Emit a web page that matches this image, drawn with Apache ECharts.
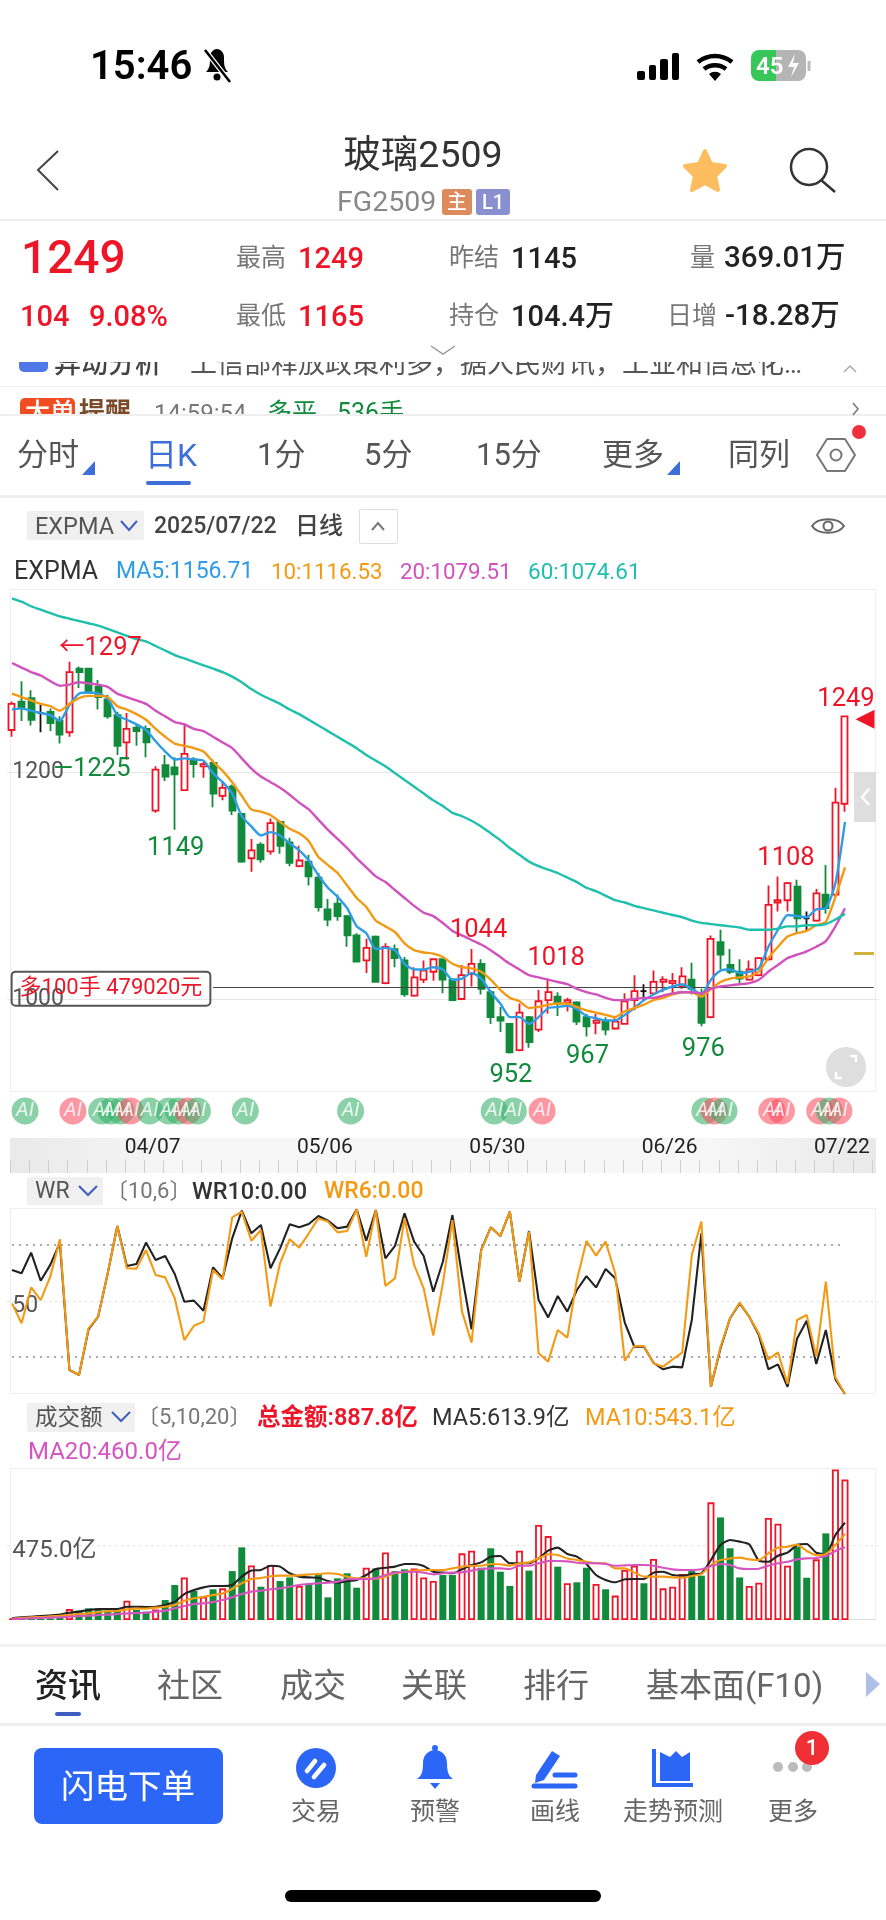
<!DOCTYPE html>
<html>
<head>
<meta charset="utf-8">
<title>玻璃2509</title>
<script src="https://cdn.jsdelivr.net/npm/echarts@6/dist/echarts.min.js"></script>
<style>
html, body { margin: 0; padding: 0; background: #fff; }
body { width: 886px; height: 1920px; position: relative; overflow: hidden; font-family: Roboto, "Noto Sans CJK SC", sans-serif; }
#chart { position: absolute; left: 0; top: 0; width: 886px; height: 1920px; z-index: 2; }
#under, #ui { position: absolute; left: 0; top: 0; width: 886px; height: 1920px; }
#under { z-index: 1; }
#ui { z-index: 3; pointer-events: none; }
.t { position: absolute; white-space: nowrap; transform: translateY(-50%); line-height: 1.2; }
.c { transform: translate(-50%, -50%); }
.b { position: absolute; box-sizing: border-box; }
.clip { position: absolute; overflow: hidden; left: 0; width: 886px; }
svg { position: absolute; left: 0; top: 0; overflow: visible; }
</style>
</head>
<body>
<div id="under">
    <div class="b" style="left:10px;top:589px;width:866px;height:503px;border:1px solid #eee"></div>
    <div class="b" style="left:10px;top:1208px;width:866px;height:186px;border:1px solid #eee"></div>
    <div class="b" style="left:10px;top:1468px;width:866px;height:152px;border:1px solid #eee;border-bottom-color:#ddd"></div>
    <div class="b" style="left:10px;top:1138px;width:866px;height:35px;background:linear-gradient(90deg,#e9e9e9,#f7f7f7 20%,#f7f7f7 80%,#e9e9e9)"></div>
    <div class="b" style="left:10px;top:1160px;width:866px;height:13px;background:repeating-linear-gradient(90deg,#cfcfcf 0 1px,transparent 1px 19.15px)"></div>
    <div class="b" style="left:0;top:219px;width:886px;height:2px;background:#eee"></div>
    <div class="b" style="left:0;top:386px;width:886px;height:1px;background:#eee"></div>
    <div class="b" style="left:0;top:414px;width:886px;height:2px;background:#eee"></div>
    <div class="b" style="left:0;top:495px;width:886px;height:3px;background:#eee"></div>
    <div class="b" style="left:0;top:1644px;width:886px;height:3px;background:#f0f0f0"></div>
    <div class="b" style="left:0;top:1723px;width:886px;height:3px;background:#eee"></div>
</div>
<div id="chart"></div>
<div id="ui"></div>
<script>
// K线数据，从图上读出来的
var dates = ['03/14','03/17','03/18','03/19','03/20','03/21','03/24','03/25','03/26','03/27','03/28','03/31','04/01','04/02','04/03','04/07','04/08','04/09','04/10','04/11','04/14','04/15','04/16','04/17','04/18','04/21','04/22','04/23','04/24','04/25','04/28','04/29','04/30','05/06','05/07','05/08','05/09','05/12','05/13','05/14','05/15','05/16','05/19','05/20','05/21','05/22','05/23','05/26','05/27','05/28','05/29','05/30','06/03','06/04','06/05','06/06','06/09','06/10','06/11','06/12','06/13','06/16','06/17','06/18','06/19','06/20','06/23','06/24','06/25','06/26','06/27','06/30','07/01','07/02','07/03','07/04','07/07','07/08','07/09','07/10','07/11','07/14','07/15','07/16','07/17','07/18','07/21','07/22'];
var opens = [1237,1262,1265,1252,1253,1245,1235,1291,1291,1275,1264,1250,1226,1239,1238,1166,1206,1204,1184,1211,1205,1208,1179,1187,1163,1124,1136,1130,1156,1138,1117,1121,1107,1079,1084,1073,1056,1034,1055,1014,1044,1034,1003,1017,1024,1035,1017,1000,1022,1031,1006,984,978,955,984,973,999,1002,997,997,984,979,981,974,978,999,1007,1005,1015,1014,1011,1017,1004,984,1050,1030,1024,1017,1021,1035,1085,1087,1099,1071,1069,1092,1092,1172];
var closes = [1260,1257,1246,1252,1243,1233,1288,1288,1270,1266,1249,1223,1238,1236,1226,1202,1196,1198,1216,1207,1207,1181,1186,1166,1121,1131,1123,1155,1135,1120,1122,1108,1081,1070,1073,1056,1033,1045,1015,1046,1036,1004,1019,1025,1035,1017,999,1021,1031,1009,984,981,953,988,962,998,1006,996,999,980,976,981,973,980,998,1007,1007,1015,1017,1016,1020,1009,979,1053,1039,1024,1018,1026,1036,1083,1087,1102,1071,1071,1093,1080,1173,1249];
var lows = [1231,1245,1241,1235,1236,1225,1231,1274,1270,1255,1247,1215,1211,1223,1213,1164,1192,1149,1184,1195,1195,1169,1175,1162,1120,1112,1120,1127,1128,1117,1116,1100,1077,1064,1069,1046,1033,1023,1015,1013,1028,1002,1002,1014,1016,1005,998,1000,1011,1004,978,971,952,954,957,971,987,985,989,977,967,969,968,973,978,990,998,1005,1006,1005,1009,1004,976,983,1026,1022,1014,1016,1020,1034,1077,1077,1058,1060,1068,1075,1090,1165];
var highs = [1262,1280,1272,1259,1256,1249,1297,1293,1291,1281,1268,1253,1252,1242,1241,1205,1215,1213,1243,1213,1209,1211,1192,1189,1164,1141,1138,1159,1157,1142,1135,1127,1111,1088,1092,1074,1058,1053,1056,1049,1048,1037,1028,1034,1036,1036,1018,1030,1044,1035,1008,993,978,996,985,1008,1018,1006,1001,998,987,987,984,983,1005,1021,1013,1025,1020,1023,1028,1032,1009,1056,1061,1044,1035,1034,1037,1100,1108,1103,1105,1077,1097,1118,1186,1249];

var ema5 = [1255,1256,1254,1252,1250,1245,1259,1269,1270,1269,1265,1250,1246,1242,1237,1227,1218,1211,1212,1211,1210,1199,1191,1181,1161,1152,1144,1147,1144,1137,1131,1122,1109,1098,1090,1080,1064,1058,1044,1045,1043,1031,1026,1026,1028,1026,1017,1018,1023,1018,1006,996,984,984,978,984,992,993,994,991,985,983,981,981,986,992,999,1004,1008,1011,1013,1009,1004,1017,1025,1026,1023,1024,1027,1046,1061,1074,1073,1072,1079,1080,1102,1156];
var ema10 = [1269,1266,1263,1260,1258,1254,1260,1265,1267,1267,1266,1258,1255,1251,1246,1238,1231,1225,1223,1221,1218,1209,1201,1191,1179,1167,1165,1162,1156,1150,1146,1139,1125,1118,1111,1100,1089,1081,1069,1064,1059,1049,1043,1041,1040,1037,1031,1028,1027,1024,1017,1008,1001,998,992,993,995,996,996,993,990,988,986,984,989,992,995,999,1001,1004,1006,1006,1002,1009,1015,1018,1019,1020,1024,1036,1046,1055,1058,1060,1065,1068,1090,1116];
var ema20 = [1296,1292,1288,1285,1280,1276,1277,1279,1278,1277,1275,1269,1266,1263,1260,1254,1249,1244,1242,1238,1236,1231,1226,1221,1212,1203,1196,1191,1186,1180,1173,1167,1158,1149,1141,1133,1124,1116,1108,1103,1096,1089,1082,1076,1073,1067,1060,1056,1052,1048,1043,1037,1031,1026,1021,1019,1017,1015,1013,1009,1006,1004,1001,999,999,1000,1001,1001,1003,1005,1006,1006,1005,1009,1011,1012,1013,1014,1017,1024,1030,1036,1039,1042,1046,1051,1064,1080];
var ema60 = [1353,1350,1346,1343,1340,1337,1335,1333,1331,1329,1326,1323,1320,1317,1315,1311,1307,1303,1300,1297,1294,1291,1288,1284,1279,1273,1268,1264,1260,1255,1251,1246,1241,1236,1231,1226,1221,1215,1210,1205,1199,1193,1187,1181,1175,1170,1164,1161,1157,1152,1146,1140,1133,1127,1121,1117,1114,1111,1107,1103,1098,1095,1091,1087,1085,1082,1080,1078,1076,1074,1072,1069,1067,1066,1065,1064,1063,1061,1061,1061,1062,1064,1064,1065,1065,1066,1070,1075];

var wr10 = [66.7,64.9,76,60.9,69.4,81.4,12.9,10.2,34.8,41.6,64.9,90.3,68.8,69.9,81.4,72,74.2,64.5,49.6,50.2,44.8,68.1,62.2,83.7,98.6,86.4,90.9,67.6,78.3,91.2,89.6,91.4,95.7,93.2,89.1,90,99.3,82.4,98.9,72.9,79.6,97.1,81.9,74.2,55,71.1,96.2,64,34.8,77.4,89.6,84.9,98,60.4,87.6,50.5,41.2,52.7,44.3,55.9,63.4,57.3,67.2,62.2,38.4,25.4,25.4,16.8,13.3,14.7,14.3,39.8,86.4,3.9,24.6,40.7,48.7,41.6,31.7,13.3,15.9,3.9,29.9,39.4,16.1,34.4,7.9,0];
var wr6 = [48.7,38,57.3,50.5,63.1,83.2,12.9,10.2,35.3,41.6,64.9,90.3,67.6,67.4,77.4,64,62.7,51.4,29,36.7,38.9,66.7,61.6,95,98,82.4,88.2,47,70.3,83.2,78.7,86.4,94.4,92.7,86.9,87.6,99.3,73.8,98.9,58.1,62.2,94.4,69.4,56.8,31.4,59.5,93.5,44.3,27.6,76.9,89.6,84.9,98,60.4,87.3,21.9,17.4,34.4,30.3,61.3,82.3,74.4,81.9,64.9,17.9,25.8,25.8,16.5,14.7,18.6,22.2,74.7,92.7,3.9,25.4,40.7,49.1,41.6,32.6,18.6,22.4,5.4,39.8,42.5,20.1,60.4,9,0];

var amount = [10,6,8,8,10,15,69,59,74,63,59,63,122,63,53,67,126,221,269,183,147,194,200,309,459,345,210,347,246,269,215,227,295,143,263,295,204,330,326,427,309,320,326,269,246,284,284,421,438,330,453,305,215,438,312,600,530,337,232,238,330,227,194,154,316,343,232,385,200,210,290,309,280,743,648,453,269,215,236,644,608,343,463,267,383,547,951,888];
var amountMa5 = [11,17,21,25,29,34,46,53,63,69,69,69,84,84,82,84,95,116,164,189,206,215,215,221,274,312,316,343,337,295,274,269,267,246,236,246,253,284,322,330,337,354,354,341,305,299,295,320,347,364,400,404,358,358,358,389,438,457,417,400,354,284,253,238,257,259,259,299,305,284,280,290,295,379,474,505,495,478,375,368,406,425,474,480,425,415,537,614];
var amountMa10 = [8,13,17,19,23,27,32,38,42,51,55,57,67,72,72,78,84,95,122,137,147,158,168,196,232,259,265,276,280,280,282,288,290,295,290,274,263,263,261,274,295,305,312,316,316,316,326,337,343,343,354,352,343,358,364,389,415,410,389,379,368,358,358,326,326,299,274,274,274,269,267,278,290,347,379,389,394,383,379,421,457,463,476,436,410,417,474,543];
var amountMa20 = [6,8,11,13,15,17,21,25,27,32,34,38,42,44,46,53,59,74,88,101,105,114,126,143,164,179,185,194,200,211,221,227,232,236,242,257,259,259,263,284,299,303,305,299,288,295,299,301,312,322,326,326,322,343,343,358,373,373,370,362,358,358,354,343,345,347,347,343,330,320,316,316,320,341,354,347,326,322,324,343,358,368,383,389,392,404,436,459];

// AI标记所在的K线序号
var aiGreen = [1,9,10,11,14,16,17,19,24,35,50,52,72,74,85];
var aiRed = [6,12,18,55,73,79,80,84,86];

// 图上标的价格
var highMarks = [[6,1297,'←1297',31,-13],[48,1044,'1044',7,-18],[56,1018,'1018',8,-20],[80,1108,'1108',8,-18],[87,1249,'1249',1,-17]];
var lowMarks = [[5,1225,'—1225',32,26],[17,1149,'1149',1,19],[52,952,'952',1,22],[60,967,'967',1,20],[72,976,'976',2,23]];
var positionPrice = 1010;
var positionText = '多100手 479020元';

var RED = '#ee1529', GREEN = '#128a3c';
var FONT = 'Roboto, "Noto Sans CJK SC", sans-serif';

// 后面空3格，最后一根K线右边留白
var cats = dates.concat(['', '', '']);
var gridX = { left: 7.2, width: 871.3 };

function priceLabel(list, color) {
    return list.map(function (m) {
        return {
            coord: [m[0], m[1]],
            symbol: 'circle',
            symbolSize: 0,
            label: { show: true, position: 'inside', offset: [m[3], m[4]], formatter: m[2], color: color, fontSize: 25.5, fontFamily: FONT }
        };
    });
}

function lineSeries(name, data, color, xi, yi, smooth, width) {
    return {
        name: name, type: 'line', data: data, xAxisIndex: xi, yAxisIndex: yi,
        symbol: 'none', smooth: smooth, lineStyle: { color: color, width: width || 2.4 }, silent: true, z: 5
    };
}

function xAxisOf(i, extra) {
    return Object.assign({
        type: 'category', gridIndex: i, data: cats, boundaryGap: true,
        axisLine: { show: false }, axisTick: { show: false }, axisLabel: { show: false }, splitLine: { show: false }
    }, extra || {});
}

var aiItems = aiGreen.map(function (i) { return { i: i, c: 'rgba(52,176,104,.72)' }; })
    .concat(aiRed.map(function (i) { return { i: i, c: 'rgba(250,76,96,.72)' }; }))
    .sort(function (a, b) { return a.i - b.i; })
    .map(function (a) { return { value: [a.i, 0.5], itemStyle: { color: a.c } }; });

var amountItems = amount.map(function (v, i) {
    var up = closes[i] > opens[i];
    return { value: v, itemStyle: up ? { color: '#fff', borderColor: RED, borderWidth: 1.8 } : { color: GREEN, borderColor: GREEN, borderWidth: 0 } };
});

var chart = echarts.init(document.getElementById('chart'));
chart.setOption({
    animation: false,
    backgroundColor: 'transparent',
    grid: [
        { left: gridX.left, width: gridX.width, top: 589, height: 503 },
        { left: gridX.left, width: gridX.width, top: 1208, height: 186 },
        { left: gridX.left, width: gridX.width, top: 1468, height: 152 },
        { left: gridX.left, width: gridX.width, top: 1097, height: 28 }
    ],
    xAxis: [
        xAxisOf(0, {
            axisLabel: {
                show: true, margin: 45, color: '#222', fontSize: 21, fontFamily: FONT, hideOverlap: false, padding: [0, 6, 0, 0],
                interval: function (i) { return i >= 15 && i <= 87 && (i - 15) % 18 === 0; }
            }
        }),
        xAxisOf(1), xAxisOf(2), xAxisOf(3)
    ],
    yAxis: [
        {
            gridIndex: 0, min: 918.06, max: 1361.2, axisLine: { show: false },
            axisTick: { show: false, customValues: [1000, 1200] },
            axisLabel: {
                inside: true, margin: 5, color: '#555', fontSize: 23, fontFamily: FONT, customValues: [1000, 1200], padding: [6, 0, 0, 0],
                formatter: function (v) { return String(v); }
            },
            splitLine: { show: true, lineStyle: { color: '#e6e6e6' } }
        },
        {
            gridIndex: 1, min: 0, max: 100, axisLine: { show: false },
            axisTick: { show: false, customValues: [50] },
            axisLabel: {
                inside: true, margin: 5, color: '#555', fontSize: 23, fontFamily: FONT, customValues: [50],
                formatter: function (v) { return '{a|' + v + '}'; },
                rich: { a: { padding: [10, 0, 0, 0], color: '#555', fontSize: 23, fontFamily: FONT } }
            },
            splitLine: { show: true, lineStyle: { color: '#ddd', type: [2, 4] } }
        },
        {
            gridIndex: 2, min: 0, max: 960, axisLine: { show: false },
            axisTick: { show: false, customValues: [475] },
            axisLabel: {
                inside: true, margin: 5, color: '#555', fontSize: 24, fontFamily: FONT, customValues: [475],
                formatter: function (v) { return '{a|' + v.toFixed(1) + '亿}'; },
                rich: { a: { padding: [12, 0, 0, 0], color: '#555', fontSize: 24, fontFamily: FONT } }
            },
            splitLine: { show: true, lineStyle: { color: '#ddd', type: [2, 4] } }
        },
        { gridIndex: 3, min: 0, max: 1, show: false }
    ],
    series: [
        {
            name: '日K', type: 'candlestick', xAxisIndex: 0, yAxisIndex: 0, barWidth: 6.5, silent: true,
            data: opens.map(function (o, i) { return [o, closes[i], lows[i], highs[i]]; }),
            itemStyle: { color: '#fff', color0: GREEN, borderColor: RED, borderColor0: GREEN, borderColorDoji: '#111', borderWidth: 1.8 },
            markLine: {
                silent: true, symbol: 'none', label: { show: false }, animation: false,
                lineStyle: { color: '#444', width: 1, type: 'solid' },
                data: [[{ coord: [21, positionPrice] }, { coord: [90, positionPrice] }]]
            },
            markPoint: {
                silent: true, animation: false, z: 9,
                data: priceLabel(highMarks, RED).concat(priceLabel(lowMarks, GREEN)).concat([
                    {
                        coord: [0, positionPrice], symbol: 'circle', symbolSize: 0,
                        label: {
                            show: true, position: 'inside', offset: [99, 1], formatter: positionText, color: '#ee1529', fontSize: 22, fontFamily: FONT,
                            backgroundColor: 'transparent', borderColor: '#555', borderWidth: 1, borderRadius: 4, padding: [6, 8]
                        }
                    },
                    {
                        coord: [87, 1249], symbol: 'triangle', symbolSize: [19, 19], symbolRotate: 90, symbolOffset: [20, 3],
                        itemStyle: { color: RED }, label: { show: false }
                    }
                ])
            }
        },
        lineSeries('MA5', ema5, '#2f9ce6', 0, 0, 0.2),
        lineSeries('10', ema10, '#f39a15', 0, 0, 0.2),
        lineSeries('20', ema20, '#d152bd', 0, 0, 0.2),
        lineSeries('60', ema60, '#1fbfae', 0, 0, 0.2),
        Object.assign(lineSeries('WR10', wr10, '#222', 1, 1, false, 2.1), {
            markLine: {
                silent: true, symbol: 'none', label: { show: false }, animation: false,
                lineStyle: { color: '#8a8a9a', width: 1.5, type: [2, 5] },
                data: [
                    [{ coord: ['03/14', 80] }, { coord: ['07/22', 80] }],
                    [{ coord: ['03/14', 20] }, { coord: ['07/22', 20] }]
                ]
            }
        }),
        lineSeries('WR6', wr6, '#f39a15', 1, 1, false, 2.1),
        {
            name: '成交额', type: 'bar', xAxisIndex: 2, yAxisIndex: 2, barWidth: 7, data: amountItems, silent: true, z: 2
        },
        lineSeries('MA5', amountMa5, '#222', 2, 2, 0.2, 2.1),
        lineSeries('MA10', amountMa10, '#f39a15', 2, 2, 0.2, 2.1),
        lineSeries('MA20', amountMa20, '#d655c0', 2, 2, 0.2, 2.1),
        {
            name: 'AI', type: 'scatter', xAxisIndex: 3, yAxisIndex: 3, symbolSize: 27, symbolOffset: [3.5, 0], silent: true,
            data: aiItems,
            label: { show: true, position: 'inside', formatter: 'AI', color: '#fff', fontSize: 20, fontStyle: 'italic', fontFamily: FONT }
        }
    ]
});

// 上下的页面文字和图标，不属于图表
var ui = document.getElementById('ui');
function txt(s, x, y, size, color, weight, center, parent) {
    var el = document.createElement('span');
    el.className = center ? 't c' : 't';
    el.textContent = s;
    el.style.cssText = 'left:' + x + 'px;top:' + y + 'px;font-size:' + size + 'px;color:' + color + ';font-weight:' + (weight || 400);
    (parent || ui).appendChild(el);
    return el;
}
function box(x, y, w, h, css, parent) {
    var el = document.createElement('div');
    el.className = 'b';
    el.style.cssText = 'left:' + x + 'px;top:' + y + 'px;width:' + w + 'px;height:' + h + 'px;' + (css || '');
    (parent || ui).appendChild(el);
    return el;
}
function clipRow(y, h) {
    var el = box(0, y, 886, h, 'overflow:hidden');
    return el;
}

// 状态栏
txt('15:46', 90, 66, 40, '#000', 600);
for (var s = 0; s < 4; s++) box(637 + s * 11.5, 71 - s * 6, 7.5, 9 + s * 6, 'background:#000;border-radius:2px');
box(751, 50, 25, 31, 'background:#37c759;border-radius:8px 0 0 8px');
box(776, 50, 30, 31, 'background:#b5b5b5;border-radius:0 8px 8px 0');
txt('45', 756, 66, 24, '#fff', 600);

// 标题
txt('玻璃2509', 423, 154, 37.5, '#333', 400, true);
txt('FG2509', 337, 202, 28.5, '#888');
box(442, 189, 30, 26, 'background:#dd8a5c;border-radius:3px');
txt('主', 457, 202, 20, '#fff', 500, true);
box(476, 189, 34, 26, 'background:#8a8fd0;border-radius:3px');
txt('L1', 493, 202, 20, '#fff', 500, true);

// 行情
txt('1249', 21, 258, 46, RED, 500);
txt('最高', 236, 258, 25, '#777');
txt('1249', 298, 258, 29, RED, 500);
txt('昨结', 449, 258, 25, '#777');
txt('1145', 511, 258, 29, '#222', 500);
txt('量', 690, 258, 25, '#777');
txt('369.01万', 724, 258, 29.5, '#222', 500);
txt('104', 20, 316, 29, RED, 500);
txt('9.08%', 89, 316, 29, RED, 500);
txt('最低', 236, 316, 25, '#777');
txt('1165', 298, 316, 29, RED, 500);
txt('持仓', 449, 316, 25, '#777');
txt('104.4万', 511, 316, 29, '#222', 500);
txt('日增', 667, 316, 25, '#777');
txt('-18.28万', 725, 316, 29.5, '#222', 500);

// 滚动消息，上下都被裁掉一半
var row1 = clipRow(362, 16);
box(19, -10, 29, 20, 'background:#4f78e8;border-radius:5px', row1);
txt('异动分析', 54, 2, 27, '#444', 500, false, row1);
txt('工信部释放政策利多，据人民财讯，工业和信息化…', 190, 2, 27, '#555', 400, false, row1);
var row2 = clipRow(394, 20);
box(20, 4, 55, 30, 'background:#f04d22;border-radius:5px', row2);
txt('大单', 25, 19, 25, '#fff', 500, false, row2);
txt('提醒', 79, 19, 26, '#7a4a2a', 600, false, row2);
txt('14:59:54', 154, 19, 24, '#777', 400, false, row2);
txt('多平', 267, 19, 25, GREEN, 400, false, row2);
txt('536手', 337, 19, 25, GREEN, 400, false, row2);

// 周期
txt('分时', 17, 455, 31, '#555');
txt('日K', 145, 455, 32, '#3e6fd8');
box(146, 481, 45, 4, 'background:#3e6fd8;border-radius:2px');
txt('1分', 257, 455, 31, '#555');
txt('5分', 364, 455, 31, '#555');
txt('15分', 476, 455, 31, '#555');
txt('更多', 602, 455, 31, '#555');
txt('同列', 728, 455, 31, '#555');
box(852, 425, 14, 14, 'background:#f0303c;border-radius:50%');

// 指标条
box(27, 511, 117, 29, 'background:#f0f0f0;border-radius:2px', document.getElementById('under'));
txt('EXPMA', 35, 526, 23.5, '#555');
txt('2025/07/22', 154, 526, 23, '#444', 500);
txt('日线', 295, 526, 24, '#444', 500);
box(359, 509, 39, 35, 'border:1px solid #ddd;border-radius:2px', document.getElementById('under'));
txt('EXPMA', 14, 571, 25, '#333');
txt('MA5:1156.71', 116, 571, 23, '#2f9ce6');
txt('10:1116.53', 271, 571, 22.3, '#f39a15');
txt('20:1079.51', 400, 571, 22.3, '#d152bd');
txt('60:1074.61', 528, 571, 22.5, '#1fbfae');

// K线区上的小控件
box(854, 772, 22, 50, 'background:#dedede');
box(854, 952, 20, 3, 'background:#d4b13c');
box(826, 1047, 40, 40, 'background:#dedede;border-radius:50%');

// WR
box(27, 1177, 76, 28, 'background:#f0f0f0;border-radius:2px', document.getElementById('under'));
txt('WR', 35, 1191, 23, '#555');
txt('〔10,6〕', 106, 1191, 22, '#777');
txt('WR10:0.00', 192, 1191, 23.5, '#333', 500);
txt('WR6:0.00', 324, 1191, 23, '#f39a15', 500);

// 成交额
box(27, 1403, 108, 29, 'background:#f0f0f0;border-radius:2px', document.getElementById('under'));
txt('成交额', 35, 1417, 22.5, '#555');
txt('〔5,10,20〕', 137, 1417, 22, '#777');
txt('总金额:887.8亿', 257, 1417, 23.5, RED, 600);
txt('MA5:613.9亿', 432, 1417, 23.5, '#333');
txt('MA10:543.1亿', 585, 1417, 23.5, '#f39a15');
txt('MA20:460.0亿', 28, 1451, 24, '#d655c0');

// 底部标签
txt('资讯', 35, 1686, 33, '#222', 500);
txt('社区', 157, 1686, 33, '#666');
txt('成交', 280, 1686, 33, '#666');
txt('关联', 401, 1686, 33, '#666');
txt('排行', 523, 1686, 33, '#666');
txt('基本面(F10)', 646, 1686, 33, '#666');
box(55, 1712, 26, 4, 'background:#3e5fc0;border-radius:2px');

box(34, 1748, 189, 76, 'background:#2b66f6;border-radius:8px');
txt('闪电下单', 128, 1787, 33.5, '#fff', 400, true);
txt('交易', 316, 1812, 25, '#666', 400, true);
txt('预警', 435, 1812, 25, '#666', 400, true);
txt('画线', 555, 1812, 25, '#666', 400, true);
txt('走势预测', 673, 1812, 25, '#666', 400, true);
txt('更多', 793, 1812, 25, '#666', 400, true);
[778, 793, 807].forEach(function (x) { box(x - 5, 1762, 10, 10, 'background:#bbb;border-radius:50%'); });
box(795, 1731, 34, 34, 'background:#f03034;border-radius:50%');
txt('1', 812, 1748, 22, '#fff', 500, true);
box(285, 1890, 316, 12, 'background:#000;border-radius:6px');

// 矢量小图标
ui.insertAdjacentHTML('beforeend',
    '<svg width="886" height="1920" fill="none">' +
    // 静音铃
    '<path d="M206 72c4-4 4-8 4-15 0-5 4-8 7-8s7 3 7 8c0 7 0 11 4 15z" fill="#000"/><circle cx="217" cy="77" r="3.5" fill="#000"/><path d="M205 50l25 32" stroke="#fff" stroke-width="5"/><path d="M205 50l25 32" stroke="#000" stroke-width="2.5"/>' +
    // wifi
    '<path d="M698 62a27 27 0 0 1 34 0M704 69a18 18 0 0 1 22 0" stroke="#000" stroke-width="4.5"/><path d="M709 74a9 9 0 0 1 12 0l-6 7z" fill="#000"/><path d="M809 61v10" stroke="#bbb" stroke-width="3"/><path d="M795 54l-7 13h6l-3 10 8-14h-6z" fill="#fff"/>' +
    // 返回
    '<path d="M58 151L38 170l20 20" stroke="#444" stroke-width="2"/>' +
    // 星
    '<path d="M705 151l6 13 14 2-10 10 3 14-13-7-13 7 3-14-10-10 14-2z" fill="#fbbd5e" stroke="#fbbd5e" stroke-width="4" stroke-linejoin="round"/>' +
    // 搜索
    '<circle cx="809" cy="167" r="18" stroke="#333" stroke-width="2.5"/><path d="M821 180l14 12" stroke="#333" stroke-width="2.5"/>' +
    // 下拉
    '<path d="M431 346l12 8 12-8" stroke="#999" stroke-width="1.5"/><path d="M844 372l6-6 6 6" stroke="#aaa" stroke-width="1.5"/><path d="M853 403l5 6-5 6" stroke="#777" stroke-width="1.5"/>' +
    // 小三角
    '<path d="M82 475h13v-14z" fill="#3e6fd8"/><path d="M667 475h13v-14z" fill="#3e6fd8"/>' +
    // 六边形
    '<path d="M827 439h18l10 16-10 16h-18l-10-16z" stroke="#777" stroke-width="2" stroke-linejoin="round"/><circle cx="836" cy="455" r="5.5" stroke="#777" stroke-width="2"/>' +
    // 下拉箭头
    '<path d="M121 521l8 9 8-9M79 1186l9 9 9-9M112 1412l9 9 9-9" stroke="#3e5fc0" stroke-width="2"/>' +
    '<path d="M372 530l6-7 6 7" stroke="#777" stroke-width="2"/>' +
    // 眼睛
    '<path d="M812 526c6-9 26-9 32 0c-6 9-26 9-32 0z" stroke="#666" stroke-width="2"/><circle cx="828" cy="526" r="4.5" stroke="#666" stroke-width="2"/>' +
    // 收起箭头、全屏
    '<path d="M869 789l-7 8 7 8" stroke="#fff" stroke-width="2.5"/><path d="M836 1072v6h6M856 1062v-6h-6" stroke="#fff" stroke-width="2.5"/>' +
    // 右三角
    '<path d="M866 1672l14 12-14 13z" fill="#b0bfe8"/>' +
    // 交易
    '<circle cx="316" cy="1768" r="20" fill="#2b66f6"/><path d="M307 1771l8-10M314 1777l10-12" stroke="#fff" stroke-width="4.5" stroke-linecap="round"/>' +
    // 铃
    '<path d="M417 1779c4-3 6-6 6-16 0-8 6-13 12-13s12 5 12 13c0 10 2 13 6 16z" fill="#2b66f6"/><circle cx="435" cy="1748" r="3" fill="#2b66f6"/><path d="M430 1783h10l-5 6z" fill="#2b66f6"/>' +
    // 画线
    '<path d="M536 1775l16-24 8 5-16 24-9 3z" fill="#2b66f6"/><path d="M555 1775h20M534 1786h41" stroke="#2b66f6" stroke-width="5" stroke-linecap="round"/>' +
    // 走势预测
    '<path d="M654 1749v36h39" stroke="#2b66f6" stroke-width="4"/><path d="M660 1752l10 5 6-6 6 6 8-5v29h-30z" fill="#2b66f6"/>' +
    '</svg>');
</script>
</body>
</html>
